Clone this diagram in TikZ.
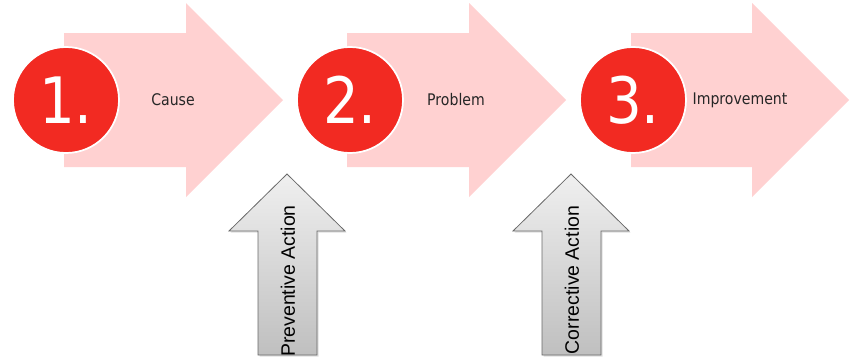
\documentclass[tikz,border=0pt]{standalone}
\usepackage{fontspec}
\setmainfont{Liberation Sans}
\newfontfamily\lblfont{DejaVu Sans}[FakeStretch=0.88]
\usetikzlibrary{shadows}
\definecolor{stepred}{RGB}{242,42,34}
\definecolor{steppink}{RGB}{255,209,209}
\definecolor{actionedge}{RGB}{105,105,105}
\begin{document}
\begin{tikzpicture}[x=0.75pt, y=-0.75pt,
  stage/.style={fill=steppink},
  badge/.style={circle, fill=stepred, draw=white, line width=1.3pt,
    minimum size=79.5pt, inner sep=0pt, text=white,
    font=\lblfont\fontsize{48}{48}\selectfont},
  steptext/.style={text=black!85, font=\lblfont\fontsize{12}{14}\selectfont},
  action/.style={draw=actionedge, line width=0.6pt, top color=black!6,
    bottom color=black!25,
    drop shadow={shadow xshift=1.2pt, shadow yshift=-1.2pt, opacity=0.25}},
  actiontext/.style={rotate=90, font=\fontsize{14.6}{16}\selectfont}]
  \useasboundingbox (0,0) rectangle (851,361);
  % the three stages
  \fill[stage] (64,33) -- (186,33) -- (186,3) -- (283,100) -- (186,197) -- (186,167) -- (64,167) -- cycle;
  \fill[stage] (347,33) -- (469,33) -- (469,3) -- (566,100) -- (469,197) -- (469,167) -- (347,167) -- cycle;
  \fill[stage] (631,33) -- (752,33) -- (752,3) -- (849,100) -- (752,197) -- (752,167) -- (631,167) -- cycle;
  \node[badge] (c1) at (66, 100) {1.};
  \node[badge] (c2) at (350, 100) {2.};
  \node[badge] (c3) at (633, 100) {3.};
  \node[steptext] (t1) at (173, 100) {Cause};
  \node[steptext] (t2) at (456, 100) {Problem};
  \node[steptext] (t3) at (740, 100) {Improvement};
  % the actions
  \draw[action] (258,355) -- (258,231) -- (229,231) -- (287,174) -- (345,231) -- (317,231) -- (317,355) -- cycle;
  \draw[action] (542,355) -- (542,231) -- (513,231) -- (571,174) -- (629,231) -- (601,231) -- (601,355) -- cycle;
  \node[actiontext] (a1) at (288, 281) {Preventive Action};
  \node[actiontext] (a2) at (572, 280) {Corrective Action};
\end{tikzpicture}
\end{document}
